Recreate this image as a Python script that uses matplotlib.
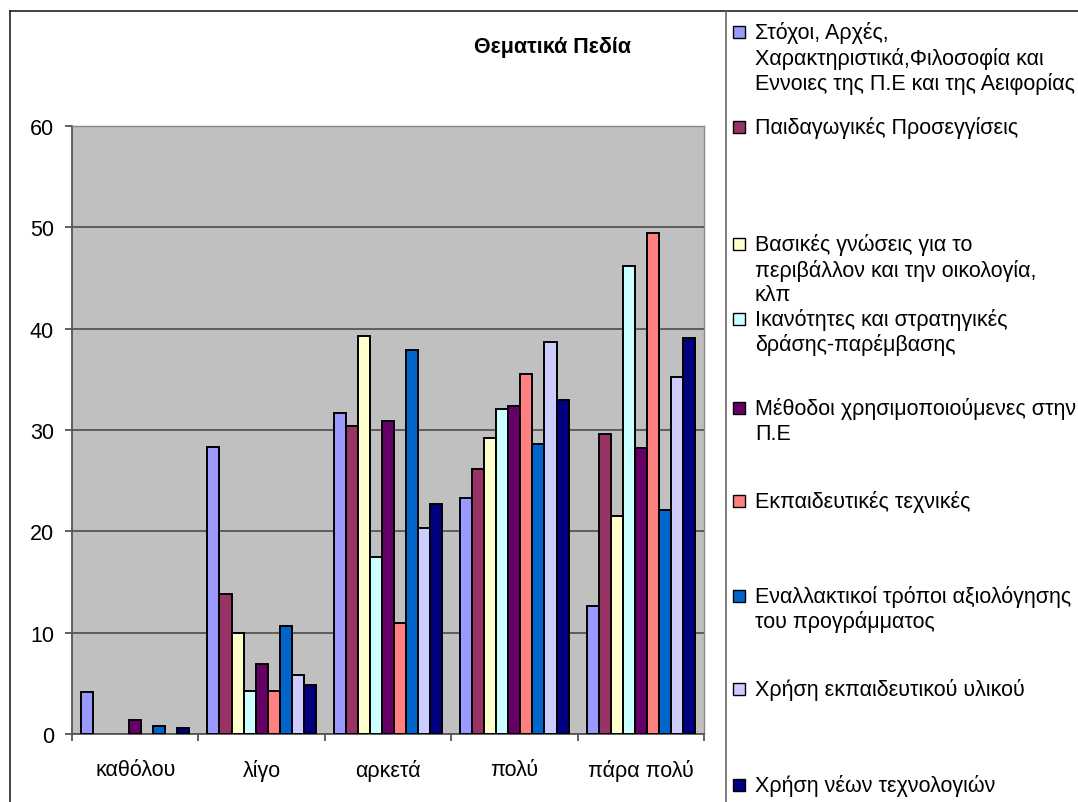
import matplotlib
matplotlib.use('Agg')
import matplotlib.pyplot as plt
from matplotlib.patches import Rectangle
from matplotlib.lines import Line2D
import numpy as np

plt.rcParams['font.family'] = ['Liberation Sans', 'DejaVu Sans']

title = 'Θεματικά Πεδία'
categories = ['καθόλου', 'λίγο', 'αρκετά', 'πολύ', 'πάρα πολύ']
series_names = [
    'Στόχοι, Αρχές,\nΧαρακτηριστικά,Φιλοσοφία και\nΕννοιες της Π.Ε και της Αειφορίας',
    'Παιδαγωγικές Προσεγγίσεις',
    'Βασικές γνώσεις για το\nπεριβάλλον και την οικολογία,\nκλπ',
    'Ικανότητες και στρατηγικές\nδράσης-παρέμβασης',
    'Μέθοδοι χρησιμοποιούμενες στην\nΠ.Ε',
    'Εκπαιδευτικές τεχνικές',
    'Εναλλακτικοί τρόποι αξιολόγησης\nτου προγράμματος',
    'Χρήση εκπαιδευτικού υλικού',
    'Χρήση νέων τεχνολογιών',
]
s_stoxoi = [4.1, 28.3, 31.7, 23.3, 12.6]
s_paidag = [0, 13.8, 30.4, 26.2, 29.6]
s_vasikes = [0, 10.0, 39.3, 29.2, 21.5]
s_ikanot = [0, 4.2, 17.5, 32.1, 46.2]
s_methodoi = [1.4, 6.9, 30.9, 32.4, 28.2]
s_tekhnikes = [0, 4.2, 11.0, 35.5, 49.4]
s_axiolog = [0.8, 10.7, 37.9, 28.6, 22.1]
s_yliko = [0, 5.8, 20.3, 38.7, 35.2]
s_tehnol = [0.6, 4.8, 22.7, 33.0, 39.1]
series = [s_stoxoi, s_paidag, s_vasikes, s_ikanot, s_methodoi,
          s_tekhnikes, s_axiolog, s_yliko, s_tehnol]
yticks = [0, 10, 20, 30, 40, 50, 60]

colors = ['#9999FF', '#993366', '#FFFFCC', '#CCFFFF', '#660066',
          '#FF8080', '#0066CC', '#CCCCFF', '#000080']

W, H = 1078, 803
fig = plt.figure(figsize=(W / 100, H / 100), dpi=100)
FS = 15.5


def fx(px):
    return px / W


def fy(py):
    return 1 - py / H


ax = fig.add_axes([fx(72), fy(735), fx(704) - fx(72), fy(127) - fy(735)])
ax.set_facecolor('#C0C0C0')

n = len(series)
w = 1 / (n + 1.5)
x = np.arange(len(categories))
for j, (vals, c) in enumerate(zip(series, colors)):
    vals = np.asarray(vals, dtype=float)
    m = vals > 0
    ax.bar(x[m] + (j - (n - 1) / 2) * w, vals[m], w, color=c,
           edgecolor='black', linewidth=1.4, zorder=3)

ax.set_xlim(-0.5, len(categories) - 0.5)
ax.set_ylim(0, 60)
ax.set_yticks(yticks)
ax.set_yticklabels([str(v) for v in yticks])
ax.yaxis.grid(True, color='#555555', linewidth=1.3)
ax.set_axisbelow(True)

ax.set_xticks(np.arange(-0.5, len(categories), 1.0))
ax.set_xticklabels([])
ax.set_xticks(x, minor=True)
ax.set_xticklabels(categories, minor=True)
ax.tick_params(axis='x', which='major', length=5, width=1.3, color='#555555', direction='out')
ax.tick_params(axis='x', which='minor', length=0, pad=18, labelsize=FS)
ax.tick_params(axis='y', length=5, width=1.3, color='#555555', direction='out', pad=8, labelsize=FS)

for s in ['left', 'bottom']:
    ax.spines[s].set_color('#555555')
    ax.spines[s].set_linewidth(1.3)
for s in ['top', 'right']:
    ax.spines[s].set_color('#888888')
    ax.spines[s].set_linewidth(1.0)

fig.text(fx(553), fy(48), title, ha='center', va='center', fontsize=FS, fontweight='bold')

# chart border and legend box
fig.add_artist(Line2D([fx(10), fx(10)], [0, fy(12)], color='#222222', linewidth=1.2))
fig.add_artist(Line2D([fx(10), 1], [fy(12), fy(12)], color='#222222', linewidth=1.2))
fig.add_artist(Line2D([fx(726), fx(726)], [0, fy(12)], color='#666666', linewidth=1.2))

entry_y = [33, 128, 245, 320, 409, 502, 597, 690, 786]
line_pitch = 25.5
for name, c, y0 in zip(series_names, colors, entry_y):
    fig.add_artist(Rectangle((fx(733), fy(y0 + 6)), fx(12), fy(0) - fy(12),
                             facecolor=c, edgecolor='black', linewidth=1.0,
                             transform=fig.transFigure))
    for k, line in enumerate(name.split('\n')):
        fig.text(fx(755), fy(y0 + k * line_pitch), line, ha='left', va='center', fontsize=FS)

fig.savefig('out.png', dpi=100)
